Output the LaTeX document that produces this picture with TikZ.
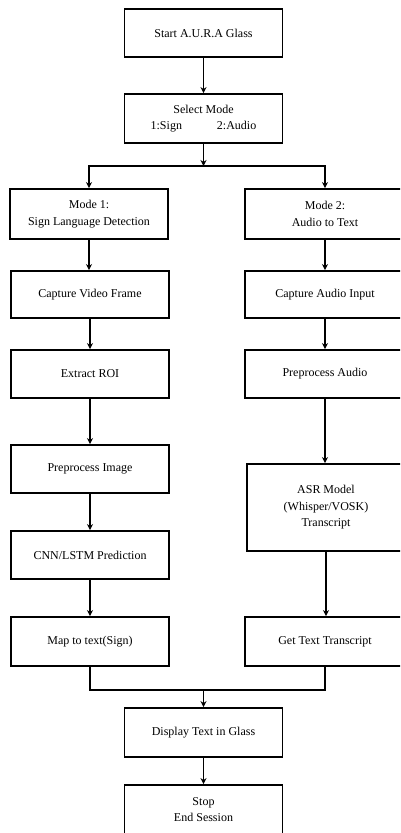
\documentclass[tikz,border=0pt]{standalone}
\usepackage{fontspec}
\setmainfont{Liberation Serif}
\usetikzlibrary{arrows.meta}
\begin{document}
\begin{tikzpicture}[x=1pt,y=-1pt,
  box/.style={draw=black,line width=1.9pt,fill=white,align=center,inner sep=0pt,
    font=\fontsize{12}{16.5}\selectfont,minimum width=158pt,minimum height=48pt},
  arr/.style={line width=1.7pt,-{Stealth[length=6pt,width=6pt]}},
  ln/.style={line width=1.7pt}]
\useasboundingbox (0,0) rectangle (400,833);
\clip (0,0) rectangle (400,833);
\fill[white] (0,0) rectangle (400,833);
\node[box] (start) at (203.5,33) {Start A.U.R.A Glass};
\node[box,minimum height=49pt] (select) at (203.5,118.5) {Select Mode\\1:Sign\hspace{35pt}2:Audio};
\node[box,minimum height=50pt] (m1) at (89,214) {Mode 1:\\Sign Language Detection};
\node[box,minimum height=50pt,minimum width=160pt] (m2) at (325,214) {Mode 2:\\Audio to Text};
\node[box,minimum height=47pt] (cvf) at (90,294.5) {Capture Video Frame};
\node[box,minimum height=47pt,minimum width=160pt] (cai) at (325,294.5) {Capture Audio Input};
\node[box] (roi) at (90,374) {Extract ROI};
\node[box,minimum width=160pt] (pa) at (325,374) {Preprocess Audio};
\node[box] (pi) at (90,469) {Preprocess Image};
\node[box,minimum height=87pt,minimum width=158pt] (asr) at (326,507.5) {ASR Model\\(Whisper/VOSK)\\Transcript};
\node[box] (cnn) at (90,555) {CNN/LSTM Prediction};
\node[box,minimum height=49pt] (map) at (90,641.5) {Map to text(Sign)};
\node[box,minimum height=49pt,minimum width=160pt] (get) at (325,641.5) {Get Text Transcript};
\node[box,minimum height=49pt] (disp) at (203.5,732.5) {Display Text in Glass};
\node[box,minimum height=49pt] (stop) at (203.5,809.5) {Stop\\End Session};
\coordinate (split) at (203.5,166);
\coordinate (merge) at (203.5,690);
\draw[arr] (start) -- (select);
\draw[arr] (select) -- (split);
\draw[arr] (split) -| (m1.north);
\draw[arr] (split) -| (m2.north);
\draw[arr] (m1) -- (m1 |- cvf.north);
\draw[arr] (cvf) -- (roi);
\draw[arr] (roi) -- (pi);
\draw[arr] (pi) -- (cnn);
\draw[arr] (cnn) -- (map);
\draw[arr] (m2) -- (cai);
\draw[arr] (cai) -- (pa);
\draw[arr] (pa) -- (pa |- asr.north);
\draw[arr] (asr) -- (asr |- get.north);
\draw[ln] (map.south) |- (merge);
\draw[ln] (get.south) |- (merge);
\draw[arr] (merge) -- (disp);
\draw[arr] (disp) -- (stop);
\end{tikzpicture}
\end{document}
